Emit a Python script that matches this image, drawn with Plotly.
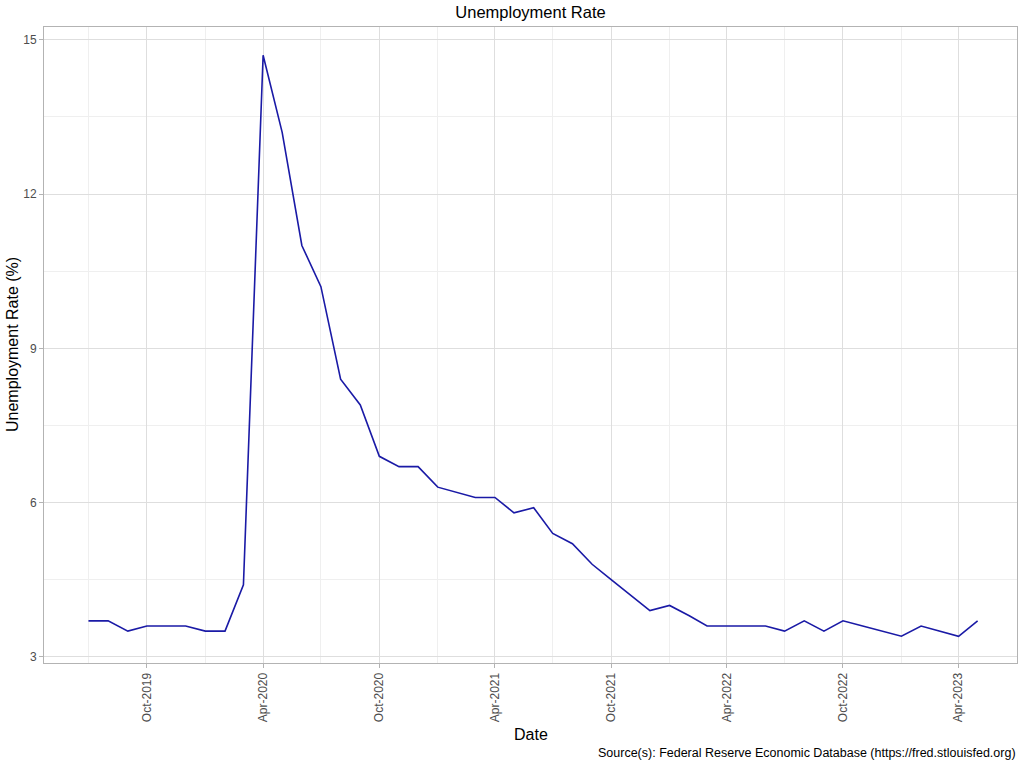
import plotly.graph_objects as go
import pandas as pd

dates = pd.date_range("2019-07-01", "2023-05-01", freq="MS")
rates = [3.7, 3.7, 3.5, 3.6, 3.6, 3.6,
         3.5, 3.5, 4.4, 14.7, 13.2, 11.0, 10.2, 8.4, 7.9, 6.9, 6.7, 6.7,
         6.3, 6.2, 6.1, 6.1, 5.8, 5.9, 5.4, 5.2, 4.8, 4.5, 4.2, 3.9,
         4.0, 3.8, 3.6, 3.6, 3.6, 3.6, 3.5, 3.7, 3.5, 3.7, 3.6, 3.5,
         3.4, 3.6, 3.5, 3.4, 3.7]

title_text = "Unemployment Rate"
x_title = "Date"
y_title = "Unemployment Rate (%)"
caption = "Source(s): Federal Reserve Economic Database (https://fred.stlouisfed.org)"

font_family = "Liberation Sans, Arial, sans-serif"

W, H = 1019, 763
L, R, T, B = 44, 2, 27, 100
plot_w = W - L - R
plot_h = H - T - B

def px_to_paper_x(px):
    return (px - L) / plot_w

def px_to_paper_y(py):
    return (H - B - py) / plot_h

fig = go.Figure()
fig.add_trace(go.Scatter(x=dates, y=rates, mode="lines",
                         line=dict(color="#1a1aa6", width=1.6),
                         showlegend=False))

grid_major = "#dedede"
grid_minor = "#efefef"

fig.update_layout(
    width=W, height=H,
    paper_bgcolor="white", plot_bgcolor="white",
    margin=dict(l=L, r=R, t=T, b=B),
    font=dict(family=font_family, color="#000000"),
    title=dict(text=title_text, x=0.5, xref="paper", y=1 - 12 / H,
               yanchor="middle", xanchor="center",
               font=dict(size=16.5, color="black")),
    xaxis=dict(
        type="date",
        range=["2019-04-22", "2023-07-02"],
        tick0="2019-10-01", dtick="M6", tickformat="%b-%Y",
        tickangle=-90,
        tickfont=dict(size=12, color="#4d4d4d"),
        ticks="outside", ticklen=4, tickcolor="#b3b3b3",
        showgrid=True, gridcolor=grid_major, gridwidth=1,
        minor=dict(tick0="2019-07-01", dtick="M3", showgrid=True,
                   gridcolor=grid_minor, gridwidth=1, ticks=""),
        showline=True, mirror=True, linecolor="#b3b3b3", linewidth=1,
        zeroline=False, automargin=False,
    ),
    yaxis=dict(
        range=[2.88, 15.25],
        tick0=3, dtick=3,
        tickfont=dict(size=12, color="#4d4d4d"),
        ticks="outside", ticklen=4, tickcolor="#b3b3b3",
        showgrid=True, gridcolor=grid_major, gridwidth=1,
        minor=dict(tick0=1.5, dtick=1.5, showgrid=True,
                   gridcolor=grid_minor, gridwidth=1, ticks=""),
        showline=True, mirror=True, linecolor="#b3b3b3", linewidth=1,
        zeroline=False, automargin=False,
    ),
    annotations=[
        dict(text=x_title, xref="paper", yref="paper", x=0.5, y=px_to_paper_y(734),
             xanchor="center", yanchor="middle", showarrow=False,
             font=dict(size=16, color="black")),
        dict(text=y_title, xref="paper", yref="paper", x=px_to_paper_x(12), y=0.5,
             xanchor="center", yanchor="middle", textangle=-90, showarrow=False,
             font=dict(size=16, color="black")),
        dict(text=caption, xref="paper", yref="paper", x=px_to_paper_x(1018), y=px_to_paper_y(753),
             xanchor="right", yanchor="middle", showarrow=False,
             font=dict(size=12.5, color="black")),
    ],
)

fig.write_html("out.html",
               config={"displayModeBar": False},
               post_script="document.body.style.margin='0px';document.body.style.overflow='hidden';")
